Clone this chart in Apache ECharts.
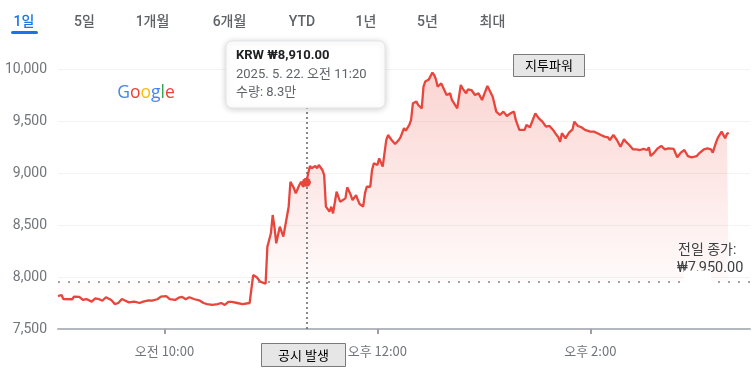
<!DOCTYPE html>
<html><head><meta charset="utf-8">
<script src="https://cdn.jsdelivr.net/npm/echarts@6/dist/echarts.min.js"></script>
<style>html,body{margin:0;padding:0;background:#fff}#c{width:752px;height:374px}</style>
</head><body><div id="c"></div>
<script>
// minutes after 09:00
const times = [0,2,3,8,9,12,14,16,19,21,23,25,27,30,32,34,36,38,40,43,46,48,51,53,56,58,61,63,66,68,70,72,74,77,80,82,84,87,90,92,94,96,98,101,104,108,109,110,112,113,114,117,118,119,120,121,122,123,124,125,127,129,130,131,133,134,136,137,138,140,141,142,143,145,146,147,149,150,151,153,154,155,157,158,159,160,162,163,165,166,168,169,170,172,173,174,176,177,178,180,181,182,183,185,186,188,189,190,192,193,195,196,198,199,200,202,203,205,206,207,208,209,211,212,213,214,216,217,219,221,222,225,227,228,230,231,233,235,237,239,240,242,243,245,247,249,251,252,253,255,257,258,260,261,263,264,266,267,269,271,273,274,275,277,279,281,282,283,284,286,288,290,291,293,295,297,298,300,302,304,306,308,310,311,313,314,315,317,319,320,322,324,326,328,330,332,333,334,336,338,340,342,344,345,347,349,351,353,355,357,360,361,364,366,368,369,371,372,374,375,376,377,378];
const prices = [7817,7827,7788,7786,7811,7808,7779,7788,7763,7795,7788,7772,7805,7779,7740,7750,7788,7772,7756,7763,7750,7763,7776,7772,7786,7811,7817,7788,7779,7801,7808,7786,7805,7786,7772,7750,7740,7731,7740,7750,7731,7760,7760,7750,7740,7750,7763,8019,7997,7997,7955,7935,8290,8356,8420,8596,8480,8324,8330,8484,8388,8580,8676,8916,8852,8804,8884,8916,8868,8910,8996,9067,9045,9067,9045,9077,9029,8980,8676,8628,8676,8612,8820,8836,8724,8708,8756,8862,8788,8740,8788,8740,8702,8676,8804,8868,8868,9029,9093,9077,9141,9125,9061,9317,9365,9317,9317,9279,9317,9343,9430,9407,9462,9510,9670,9686,9654,9622,9830,9880,9870,9900,9965,9942,9900,9830,9862,9824,9750,9766,9702,9622,9846,9814,9766,9804,9798,9750,9766,9702,9718,9837,9824,9734,9590,9558,9590,9590,9548,9574,9590,9510,9414,9398,9414,9462,9440,9430,9574,9526,9494,9478,9446,9452,9414,9365,9343,9301,9382,9334,9388,9420,9494,9452,9440,9414,9420,9398,9398,9382,9365,9350,9343,9317,9365,9350,9317,9253,9324,9301,9269,9228,9228,9221,9231,9221,9247,9163,9196,9237,9260,9228,9237,9221,9231,9151,9196,9221,9163,9151,9163,9183,9228,9237,9228,9196,9301,9343,9398,9388,9334,9375,9388];
const xTickValues = [60, 180, 300];
const xTickLabels = ['오전 10:00', '오후 12:00', '오후 2:00'];
const prevClose = 7950;
const markTime = 140, markPrice = 8910;
const tabs = ['1일','5일','1개월','6개월','YTD','1년','5년','최대'];
const tooltipLines = ['KRW ₩8,910.00', '2025. 5. 22. 오전 11:20', '수량: 8.3만'];
const prevCloseLabels = ['전일 종가:', '₩7,950.00'];

const F = 'Roboto, "Noto Sans CJK KR", sans-serif';
const K = '"Noto Sans CJK KR", sans-serif';
const RED = '#e8453c';
const tabX = [24, 84.5, 152.5, 229.5, 302, 366, 427.5, 492.5];

function txt(text, x, y, o) {
  o = o || {};
  return { type: 'text', z: 100, silent: true, style: Object.assign({
    text: text, x: x, y: y, fill: '#5f6368', fontSize: 14, fontFamily: F,
    align: 'center', textAlign: 'center', verticalAlign: 'middle', textVerticalAlign: 'middle'
  }, o) };
}

const graphics = [];
tabs.forEach((t, i) => graphics.push(txt(t, tabX[i], 22, { fill: i === 0 ? '#1a73e8' : '#5f6368', fontWeight: 500 })));
graphics.push({ type: 'rect', z: 100, shape: { x: 11, y: 31, width: 27, height: 3, r: 1.5 }, style: { fill: '#1a73e8' } });
// Google logo
const LF = '"Open Sans", Roboto, sans-serif';
graphics.push({ type: 'text', z: 100, style: {
  text: '{b|G}{r|o}{y|o}{b|g}{g|l}{r|e}', x: 146, y: 93, align: 'center', textAlign: 'center', verticalAlign: 'middle', textVerticalAlign: 'middle',
  rich: {
    b: { fill: '#4285f4', fontSize: 17.5, fontFamily: LF, fontWeight: 500 },
    r: { fill: '#ea4335', fontSize: 17.5, fontFamily: LF, fontWeight: 500 },
    y: { fill: '#fbbc05', fontSize: 17.5, fontFamily: LF, fontWeight: 500 },
    g: { fill: '#34a853', fontSize: 17.5, fontFamily: LF, fontWeight: 500 }
  } } });
// tooltip card
graphics.push({ type: 'rect', z: 100, shape: { x: 226, y: 41, width: 159, height: 67, r: 6 },
  style: { fill: '#fff', stroke: '#e3e5e8', lineWidth: 1, shadowBlur: 6, shadowColor: 'rgba(0,0,0,0.18)', shadowOffsetY: 1 } });
graphics.push(txt(tooltipLines[0], 236, 56, { align: 'left', textAlign: 'left', fill: '#202124', fontSize: 13, fontWeight: 'bold' }));
graphics.push(txt(tooltipLines[1], 236, 74.5, { align: 'left', textAlign: 'left', fill: '#5f6368', fontSize: 13 }));
graphics.push(txt(tooltipLines[2], 236, 92.5, { align: 'left', textAlign: 'left', fill: '#5f6368', fontSize: 13 }));
// annotation buttons
function btn(label, x, y, w, h) {
  graphics.push({ type: 'rect', z: 100, shape: { x: x + 0.5, y: y + 0.5, width: w, height: h }, style: { fill: '#e6e6e6', stroke: '#7a7a7a', lineWidth: 1 } });
  graphics.push(txt(label, x + w / 2 + 0.5, y + h / 2 + 0.5, { fill: '#000', fontSize: 13, fontFamily: K }));
}
btn('지투파워', 513, 54, 71, 22);
btn('공시 발생', 261, 343, 84, 23);
// previous close label
graphics.push(txt(prevCloseLabels[0], 678, 250, { align: 'left', textAlign: 'left', fill: '#3c4043', fontSize: 14 }));
graphics.push(txt(prevCloseLabels[1], 677, 268, { align: 'left', textAlign: 'left', fill: '#3c4043', fontSize: 14.5 }));
graphics.push({ type: 'rect', z: 101, shape: { x: 684, y: 270.5, width: 27, height: 19 }, style: { fill: '#fff' } });

const chart = echarts.init(document.getElementById('c'), null, { renderer: 'canvas' });
chart.setOption({
  animation: false,
  backgroundColor: '#fff',
  grid: { left: 58, right: 2, top: 69, bottom: 45 },
  xAxis: {
    type: 'value', min: 0, max: 390,
    axisLine: { show: true, lineStyle: { color: '#b4b7bb', width: 2 } },
    axisTick: { show: true, customValues: xTickValues, length: 5, lineStyle: { color: '#9aa0a6', width: 2 } },
    axisLabel: { customValues: xTickValues, margin: 16, color: '#70757a', fontSize: 13, fontFamily: K,
      formatter: v => xTickLabels[xTickValues.indexOf(v)] || '' },
    splitLine: { show: false }
  },
  yAxis: {
    type: 'value', min: 7500, max: 10000, interval: 500,
    axisLine: { show: false }, axisTick: { show: false },
    axisLabel: { margin: 11, color: '#70757a', fontSize: 14, fontFamily: F, formatter: v => v.toLocaleString('en-US') },
    splitLine: { lineStyle: { color: '#f1f3f4', width: 1 } }
  },
  series: [{
    type: 'line',
    data: times.map((t, i) => [t, prices[i]]),
    showSymbol: false,
    lineStyle: { color: RED, width: 2.3 },
    itemStyle: { color: RED },
    areaStyle: {
      origin: prevClose,
      color: { type: 'linear', x: 0, y: 0, x2: 0, y2: 1, colorStops: [
        { offset: 0, color: 'rgba(234,67,53,0.32)' }, { offset: 1, color: 'rgba(234,67,53,0)' }] }
    },
    markLine: {
      silent: true, symbol: 'none', label: { show: false },
      data: [
        { yAxis: prevClose, lineStyle: { color: '#80868b', type: [2, 8], width: 1.5 } },
        { xAxis: markTime, lineStyle: { color: '#5f6368', type: [2, 3], width: 1.5 } }
      ]
    },
    markPoint: {
      silent: true, symbol: 'circle', symbolSize: 9, label: { show: false },
      itemStyle: { color: RED },
      data: [{ coord: [markTime, markPrice] }]
    }
  }],
  graphic: graphics
});
</script></body></html>
